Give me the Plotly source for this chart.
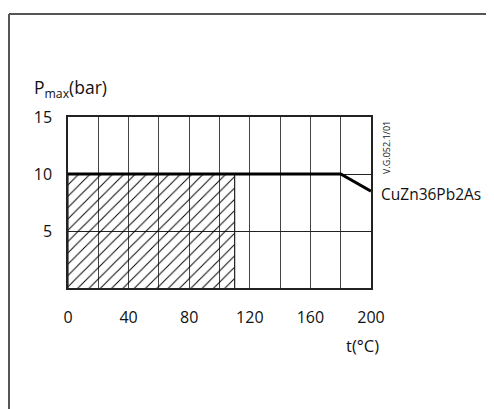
import plotly.graph_objects as go

# data
t_line = [0, 180, 200]
p_line = [10, 10, 8.5]
hatch_t = [0, 110]
hatch_p = 10
x_ticks = [0, 40, 80, 120, 160, 200]
y_ticks = [5, 10, 15]
series_name = "CuZn36Pb2As"

OFF = 8  # browser body margin
W, H = 494 - OFF, 409 - OFF
L, T = 68 - OFF, 117 - OFF
pw, ph = 303, 171
R = W - L - pw
B = H - T - ph

def px(x):
    return (x - OFF - L) / pw

def py(y):
    return (T + ph - (y - OFF)) / ph

FONT = "Open Sans, Noto Sans, sans-serif"

t0, t1 = hatch_t
fig = go.Figure()
fig.add_trace(go.Scatter(
    x=[t0, t0, t1, t1], y=[0, hatch_p, hatch_p, 0], mode="lines", fill="toself",
    line=dict(width=1.2, color="#222"),
    fillcolor="rgba(0,0,0,0)",
    fillpattern=dict(shape="/", size=8, solidity=0.12, fgcolor="#000", fgopacity=1,
                     bgcolor="rgba(0,0,0,0)"),
    hoverinfo="skip", showlegend=False))
fig.add_trace(go.Scatter(
    x=t_line, y=p_line, mode="lines",
    line=dict(color="black", width=3), showlegend=False))

fig.update_layout(
    width=W, height=H,
    margin=dict(l=L, r=R, t=T, b=B),
    paper_bgcolor="white", plot_bgcolor="white",
    font=dict(family=FONT, size=16, color="#111"),
    showlegend=False,
    xaxis=dict(range=[0, 200], tickvals=x_ticks, showgrid=True, gridcolor="#444", gridwidth=1,
               minor=dict(dtick=20, showgrid=True, gridcolor="#444", gridwidth=1, tick0=0),
               showline=True, mirror=True, linecolor="#222", linewidth=1.5,
               zeroline=False, ticks="", ticklabelstandoff=14, fixedrange=True),
    yaxis=dict(range=[0, 15], tickvals=y_ticks, showgrid=True, gridcolor="#222", gridwidth=1,
               showline=True, mirror=True, linecolor="#222", linewidth=1.5,
               zeroline=False, ticks="", ticklabelstandoff=11, fixedrange=True),
    shapes=[
        dict(type="line", xref="paper", yref="paper", x0=px(9), x1=px(494 + 5), y0=py(14), y1=py(14),
             line=dict(color="#555", width=2)),
        dict(type="line", xref="paper", yref="paper", x0=px(9), x1=px(9), y0=py(14), y1=py(409 + 5),
             line=dict(color="#555", width=2)),
    ],
    annotations=[
        dict(text="P<sub>max</sub>(bar)", xref="paper", yref="paper", x=px(32), y=py(104),
             xanchor="left", yanchor="bottom", showarrow=False, font=dict(size=17.5)),
        dict(text="t(°C)", xref="paper", yref="paper", x=px(362), y=py(345),
             xanchor="center", yanchor="middle", showarrow=False, font=dict(size=16.5)),
        dict(text=series_name, xref="paper", yref="paper", x=px(379), y=py(194),
             xanchor="left", yanchor="middle", showarrow=False, font=dict(size=15.5)),
        dict(text="V.G.052.1/01", xref="paper", yref="paper", x=px(386), y=py(148),
             xanchor="center", yanchor="middle", showarrow=False, textangle=-90,
             font=dict(size=9)),
    ],
)

fig.write_html("out.html")
